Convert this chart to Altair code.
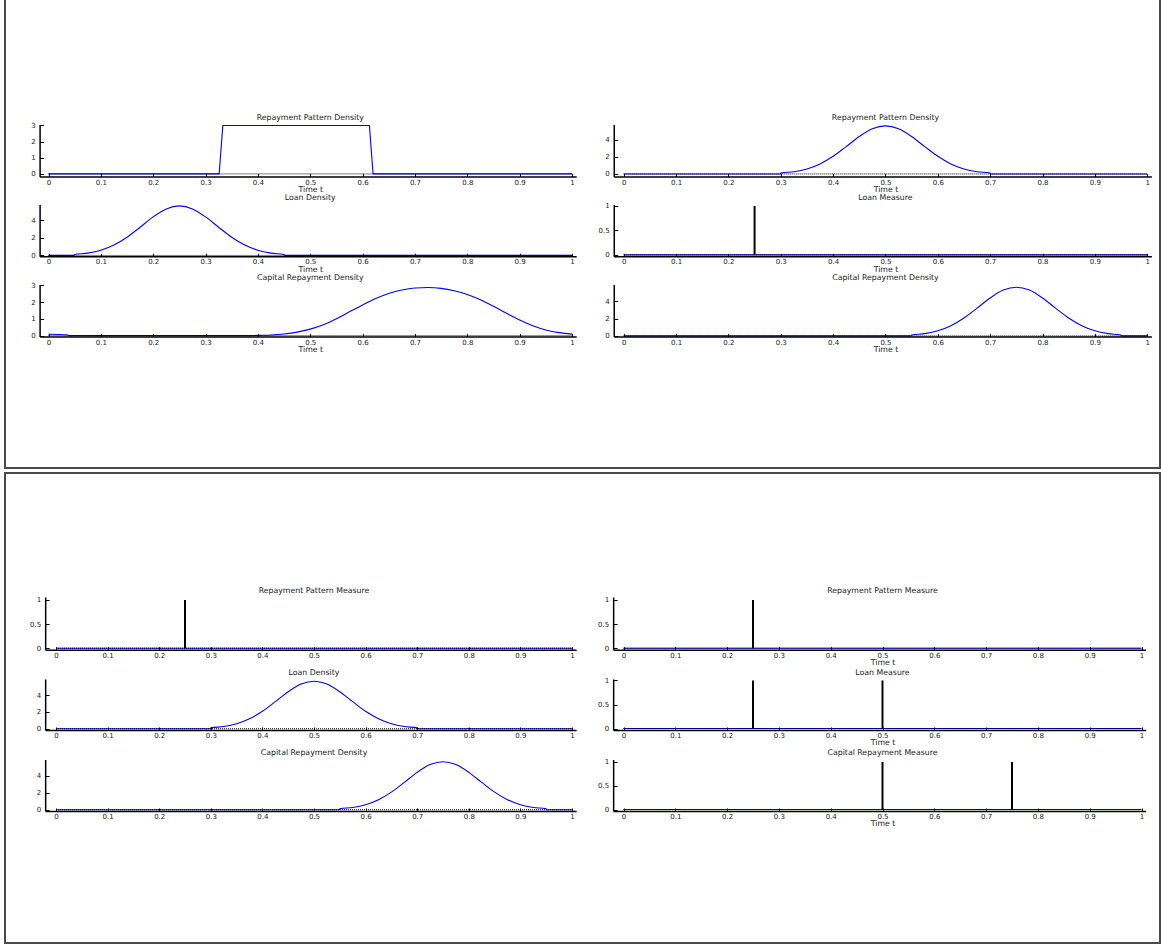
import altair as alt
import pandas as pd

# ---------------- series ----------------
# uniform repayment-pattern block
rp_block_t = [0.0, 0.326, 0.333, 0.613, 0.62, 1.0]
rp_block_v = [0.0, 0.0, 3.0, 3.0, 0.0, 0.0]

# bell-shaped densities centred at 0.25, 0.5 and 0.75
bell_025_t = [0.0, 0.049, 0.05, 0.075, 0.1, 0.125, 0.15, 0.175, 0.2, 0.225, 0.25,
              0.275, 0.3, 0.325, 0.35, 0.375, 0.4, 0.425, 0.45, 0.451, 1.0]
bell_050_t = [0.0, 0.299, 0.3, 0.325, 0.35, 0.375, 0.4, 0.425, 0.45, 0.475, 0.5,
              0.525, 0.55, 0.575, 0.6, 0.625, 0.65, 0.675, 0.7, 0.701, 1.0]
bell_075_t = [0.0, 0.549, 0.55, 0.575, 0.6, 0.625, 0.65, 0.675, 0.7, 0.725, 0.75,
              0.775, 0.8, 0.825, 0.85, 0.875, 0.9, 0.925, 0.95, 0.951, 1.0]
bell_v = [0.0, 0.0, 0.10, 0.26, 0.59, 1.18, 2.07, 3.21, 4.39, 5.30, 5.64,
          5.30, 4.39, 3.21, 2.07, 1.18, 0.59, 0.26, 0.10, 0.0, 0.0]

# capital repayment density (wraps round past t = 1)
cap_t = [0.0, 0.02, 0.035, 0.04, 0.38, 0.4, 0.425, 0.45, 0.475, 0.5, 0.525, 0.55,
         0.575, 0.6, 0.625, 0.65, 0.675, 0.7, 0.725, 0.75, 0.775, 0.8, 0.825,
         0.85, 0.875, 0.9, 0.925, 0.95, 0.975, 1.0]
cap_v = [0.08, 0.07, 0.05, 0.0, 0.0, 0.02, 0.04, 0.10, 0.21, 0.39, 0.65, 1.01,
         1.42, 1.83, 2.21, 2.51, 2.72, 2.84, 2.87, 2.82, 2.68, 2.46, 2.14,
         1.75, 1.33, 0.93, 0.59, 0.34, 0.18, 0.09]

# flat zero density for the measure panels
flat_t = [0.0, 1.0]
flat_v = [0.0, 0.0]

# point masses (locations; each carries mass 1)
spikes_rp = [0.25]
spikes_loan_a = [0.25]
spikes_loan_b = [0.25, 0.5]
spikes_cap_b = [0.5, 0.75]

X_TICKS = [0, 0.1, 0.2, 0.3, 0.4, 0.5, 0.6, 0.7, 0.8, 0.9, 1]
Y_TICKS_3 = [0, 1, 2, 3]
Y_TICKS_4 = [0, 2, 4]
Y_TICKS_1 = [0, 0.5, 1]

# ---------------- layout ----------------
BOX_W = 1155
BOX_H = [469, 470]
X_HI = 1.008
# pixel of t=0, pixel of t=1, lower x limit; per box and column
X_AXES = {
    0: [dict(p0=43.5, p1=567.0, lo=-0.017), dict(p0=618.7, p1=1142.2, lo=-0.019)],
    1: [dict(p0=51.0, p1=567.0, lo=-0.021), dict(p0=618.5, p1=1136.5, lo=-0.02)],
}
# (top, bottom) of each row's plot area
ROWS = {
    0: [(125.5, 177.5), (205.5, 257.3), (285.5, 337.5)],
    1: [(124.0, 176.7), (206.0, 257.0), (286.5, 338.0)],
}

BLUE = "#0000ff"
FONT = "DejaVu Sans"
INK = "#1a1a1a"

PANELS = [
    # box, row, col, title, (t, v, interp), spikes, y-domain, y-ticks, x-title
    (0, 0, 0, "Repayment Pattern Density", (rp_block_t, rp_block_v, "linear"), None, [-0.16, 3.06], Y_TICKS_3, True),
    (0, 0, 1, "Repayment Pattern Density", (bell_050_t, bell_v, "monotone"), None, [-0.3, 5.8], Y_TICKS_4, True),
    (0, 1, 0, "Loan Density", (bell_025_t, bell_v, "monotone"), None, [-0.1, 5.8], Y_TICKS_4, True),
    (0, 1, 1, "Loan Measure", (flat_t, flat_v, "linear"), spikes_loan_a, [-0.03, 1.03], Y_TICKS_1, True),
    (0, 2, 0, "Capital Repayment Density", (cap_t, cap_v, "monotone"), None, [-0.05, 3.05], Y_TICKS_3, True),
    (0, 2, 1, "Capital Repayment Density", (bell_075_t, bell_v, "monotone"), None, [-0.07, 5.95], Y_TICKS_4, True),
    (1, 0, 0, "Repayment Pattern Measure", (flat_t, flat_v, "linear"), spikes_rp, [-0.03, 1.06], Y_TICKS_1, False),
    (1, 0, 1, "Repayment Pattern Measure", (flat_t, flat_v, "linear"), spikes_rp, [-0.03, 1.06], Y_TICKS_1, True),
    (1, 1, 0, "Loan Density", (bell_050_t, bell_v, "monotone"), None, [-0.15, 5.9], Y_TICKS_4, False),
    (1, 1, 1, "Loan Measure", (flat_t, flat_v, "linear"), spikes_loan_b, [-0.03, 1.03], Y_TICKS_1, True),
    (1, 2, 0, "Capital Repayment Density", (bell_075_t, bell_v, "monotone"), None, [-0.15, 5.9], Y_TICKS_4, False),
    (1, 2, 1, "Capital Repayment Measure", (flat_t, flat_v, "linear"), spikes_cap_b, [-0.03, 1.05], Y_TICKS_1, True),
]


def panel(box, row, col, title, series, spikes, ydom, yticks, xtitle):
    H = BOX_H[box]
    ax = X_AXES[box][col]
    span = ax["p1"] - ax["p0"]
    xr = [ax["p0"] + ax["lo"] * span, ax["p0"] + X_HI * span]
    top, bot = ROWS[box][row]

    xscale = alt.Scale(domain=[ax["lo"], X_HI], range=xr, nice=False, zero=False)
    yscale = alt.Scale(domain=ydom, range=[bot, top], nice=False, zero=False)

    xaxis = alt.Axis(
        orient="bottom", offset=bot - H, values=X_TICKS, format="~g",
        tickSize={"expr": "-3"}, labelPadding=8.5, labelBaseline="middle",
        title="Time t" if xtitle else "", titleX=ax["p0"] + 0.5 * span,
        titleY=12.8, titleBaseline="middle", titleAnchor="middle",
        labelFlush=False, labelOverlap=False, grid=False, zindex=1,
    )
    yaxis = alt.Axis(
        orient="left", offset=-xr[0], values=yticks, format="~g",
        tickSize={"expr": "-4"}, labelPadding=8.5, title="",
        labelFlush=False, labelOverlap=False, grid=False, zindex=1,
    )

    t, v, interp = series
    line = alt.Chart(pd.DataFrame({"t": t, "v": v})).mark_line(
        color=BLUE, strokeWidth=1.1, interpolate=interp, clip=True
    ).encode(
        x=alt.X("t:Q", scale=xscale, axis=xaxis),
        y=alt.Y("v:Q", scale=yscale, axis=yaxis),
    )

    zero = alt.Chart(pd.DataFrame({"t": [0.0], "t2": [1.0], "v": [0.0]})).mark_rule(
        color="black", strokeWidth=1, strokeDash=[1, 1]
    ).encode(x="t:Q", x2="t2:Q", y="v:Q")

    layers = [line, zero]

    if spikes:
        sp = pd.DataFrame({"t": spikes, "base": [0.0] * len(spikes), "mass": [1.0] * len(spikes)})
        layers.append(
            alt.Chart(sp).mark_rule(color="black", strokeWidth=2).encode(
                x="t:Q", y="base:Q", y2="mass:Q"
            )
        )

    layers.append(
        alt.Chart(pd.DataFrame({"label": [title]})).mark_text(
            font=FONT, fontSize=7.8, color=INK, baseline="middle", align="center"
        ).encode(text="label:N", x=alt.datum(0.5), y=alt.value(top - 6.5))
    )
    return alt.layer(*layers)


boxes = []
for b in (0, 1):
    parts = [panel(*p) for p in PANELS if p[0] == b]
    boxes.append(
        alt.layer(*parts)
        .resolve_scale(x="independent", y="independent")
        .properties(width=BOX_W, height=BOX_H[b])
    )

chart = (
    alt.vconcat(*boxes, spacing=3)
    .properties(padding={"left": 4, "top": -2, "right": 0, "bottom": 0})
    .configure_view(stroke="#4a4a4a", strokeWidth=2)
    .configure_axis(
        domainColor="black", domainWidth=1.5, tickColor="black", tickWidth=1,
        labelFont=FONT, labelFontSize=7, labelColor=INK,
        titleFont=FONT, titleFontSize=7.8, titleFontWeight="normal", titleColor=INK,
    )
)

chart.save("out.html", embed_options={"renderer": "svg", "actions": False})
